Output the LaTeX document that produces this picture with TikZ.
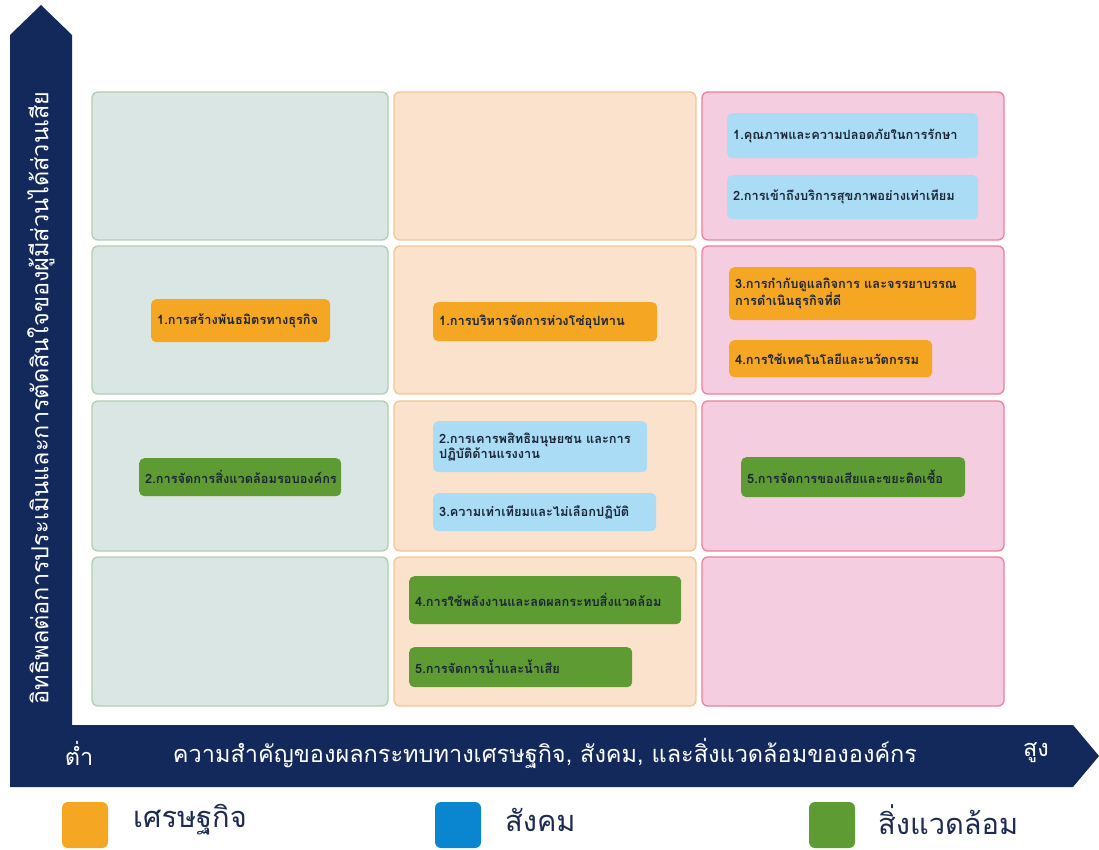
\documentclass[tikz,border=0pt]{standalone}
\usepackage{fontspec}
\setmainfont[Script=Thai]{Loma}
\definecolor{navy}{HTML}{13295B}
\definecolor{cellA}{HTML}{D9E6E4}
\definecolor{lineA}{HTML}{AECFB1}
\definecolor{cellB}{HTML}{FBE2CD}
\definecolor{lineB}{HTML}{F2C594}
\definecolor{cellC}{HTML}{F5CDE0}
\definecolor{lineC}{HTML}{EE8099}
\definecolor{econ}{HTML}{F5A623}
\definecolor{soc}{HTML}{AADCF6}
\definecolor{env}{HTML}{5E9C33}
\definecolor{socdark}{HTML}{0A86D0}
\definecolor{chiptext}{HTML}{1B2535}
\definecolor{legtext}{HTML}{1D2B52}
\tikzset{
  cellbox/.style={rounded corners=6pt, line width=1.3pt},
  chipbox/.style={rounded corners=5pt, inner xsep=6pt, inner ysep=2pt,
    align=left, text=chiptext, font=\fontsize{12.8}{15}\selectfont\bfseries},
  axistext/.style={text=white, font=\fontsize{23.5}{26}\selectfont},
  legbox/.style={rounded corners=6pt, minimum width=46pt, minimum height=46pt, inner sep=0pt},
  legtxt/.style={anchor=west, text=legtext, font=\fontsize{29}{32}\selectfont, inner sep=0pt}
}
% chip: name, x, y (top-left), width, height, colour, text
\newcommand\mchip[7]{%
  \pgfmathsetmacro\chipw{#4-12}%
  \node[chipbox, fill=#6, anchor=north west, minimum width=#4pt,
        minimum height=#5pt, text width=\chipw pt] (#1) at (#2,#3) {#7};}
\begin{document}
\begin{tikzpicture}[x=1pt,y=-1pt]
\useasboundingbox (0,0) rectangle (1099,850);
\fill[white] (0,0) rectangle (1099,850);

% L-shaped axes with arrow heads
\fill[navy] (10,787) -- (10,35) -- (41,5) -- (72,35) -- (72,725)
  -- (1073,725) -- (1099,756) -- (1073,787) -- cycle;

% grid of cells
\foreach \y/\h in {92/148, 246/148, 401/150, 557/149}{
  \draw[cellbox, fill=cellA, draw=lineA] (92,\y) rectangle ++(296,\h);
  \draw[cellbox, fill=cellB, draw=lineB] (394,\y) rectangle ++(302,\h);
  \draw[cellbox, fill=cellC, draw=lineC] (702,\y) rectangle ++(302,\h);
}

% topics
\mchip{q1}{727}{113}{251}{45}{soc}{1.คุณภาพและความปลอดภัยในการรักษา}
\mchip{q2}{727}{175}{251}{44}{soc}{2.การเข้าถึงบริการสุขภาพอย่างเท่าเทียม}
\mchip{g3}{729}{267}{247}{53}{econ}{3.การกำกับดูแลกิจการ และจรรยาบรรณ\\การดำเนินธุรกิจที่ดี}
\mchip{g4}{729}{340}{203}{37}{econ}{4.การใช้เทคโนโลยีและนวัตกรรม}
\mchip{sc}{433}{302}{224}{39}{econ}{1.การบริหารจัดการห่วงโซ่อุปทาน}
\mchip{bp}{151}{299}{179}{43}{econ}{1.การสร้างพันธมิตรทางธุรกิจ}
\mchip{ev}{139}{458}{202}{38}{env}{2.การจัดการสิ่งแวดล้อมรอบองค์กร}
\mchip{hr}{433}{421}{214}{51}{soc}{2.การเคารพสิทธิมนุษยชน และการ\\ปฏิบัติด้านแรงงาน}
\mchip{eq}{433}{493}{223}{38}{soc}{3.ความเท่าเทียมและไม่เลือกปฏิบัติ}
\mchip{ws}{741}{457}{224}{40}{env}{5.การจัดการของเสียและขยะติดเชื้อ}
\mchip{en}{409}{576}{272}{48}{env}{4.การใช้พลังงานและลดผลกระทบสิ่งแวดล้อม}
\mchip{wt}{409}{647}{223}{40}{env}{5.การจัดการน้ำและน้ำเสีย}

% axis labels
\node[axistext, rotate=90] (ylab) at (41,398) {อิทธิพลต่อการประเมินและการตัดสินใจของผู้มีส่วนได้ส่วนเสีย};
\node[axistext] (lo) at (79,753) {ต่ำ};
\node[axistext] (xlab) at (545,753) {ความสำคัญของผลกระทบทางเศรษฐกิจ, สังคม, และสิ่งแวดล้อมขององค์กร};
\node[axistext] (hi) at (1036,753) {สูง};

% legend
\node[legbox, fill=econ] (k1) at (85,825) {};
\node[legtxt] (t1) at (133,820) {เศรษฐกิจ};
\node[legbox, fill=socdark] (k2) at (458,825) {};
\node[legtxt] (t2) at (505,820) {สังคม};
\node[legbox, fill=env] (k3) at (832,825) {};
\node[legtxt] (t3) at (878,820) {สิ่งแวดล้อม};
\end{tikzpicture}
\end{document}
